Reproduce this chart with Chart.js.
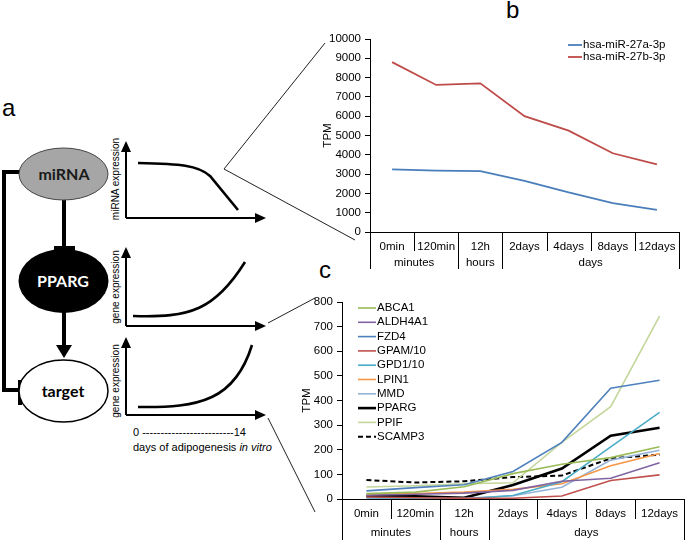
<!DOCTYPE html>
<html lang="en">
<head>
<meta charset="UTF-8">
<title>miR-27 / PPARG adipogenesis</title>
<script src="https://cdn.jsdelivr.net/npm/chart.js@4.4.0/dist/chart.umd.min.js"></script>
<style>
  body { margin: 0; background: #fff; }
  #wrap { position: relative; width: 685px; height: 540px; overflow: hidden; font-family: "Liberation Sans", Arial, sans-serif; }
  #diagram { position: absolute; left: 0; top: 0; }
  .box { position: absolute; }
  .panel { position: absolute; font-size: 24px; color: #000; }
</style>
</head>
<body>
<div id="wrap">
  <svg id="diagram" width="685" height="540" xmlns="http://www.w3.org/2000/svg">
    <!-- connector lines to the charts -->
    <g stroke="#222" stroke-width="1" fill="none">
      <line x1="224" y1="169" x2="325" y2="43"/>
      <line x1="224" y1="169" x2="355" y2="240"/>
      <line x1="268" y1="323" x2="315" y2="298"/>
      <line x1="268" y1="418" x2="315" y2="512"/>
    </g>
    <!-- regulation scheme -->
    <g stroke="#000" stroke-width="4" fill="none">
      <polyline points="20,172 4,172 4,390 20,390"/>
      <line x1="20" y1="380" x2="20" y2="405"/>
      <line x1="64" y1="198" x2="64" y2="248"/>
      <line x1="54" y1="248" x2="75" y2="248"/>
      <line x1="64" y1="312" x2="64" y2="346"/>
    </g>
    <path d="M56,345 L72,345 L64,358 z" fill="#000"/>
    <ellipse cx="63.5" cy="174" rx="44.5" ry="26" fill="#a6a6a6" stroke="#444" stroke-width="1"/>
    <ellipse cx="63.5" cy="281" rx="45" ry="32" fill="#000"/>
    <ellipse cx="63.5" cy="391" rx="44.5" ry="31" fill="#fff" stroke="#000" stroke-width="1.5"/>
    <g font-family="Lato, 'Open Sans', sans-serif" font-weight="bold" font-size="16" text-anchor="middle">
      <text x="64" y="180" fill="#1a1a1a">miRNA</text>
      <text x="63" y="287" fill="#fff">PPARG</text>
      <text x="63" y="397" fill="#000">target</text>
    </g>
    <!-- schematic expression curves -->
    <g stroke="#000" stroke-width="2" fill="none">
      <line x1="126" y1="218" x2="126" y2="150"/>
      <line x1="126" y1="218" x2="257" y2="218"/>
      <line x1="126" y1="326" x2="126" y2="256"/>
      <line x1="126" y1="326" x2="257" y2="326"/>
      <line x1="126" y1="415" x2="126" y2="346"/>
      <line x1="126" y1="415" x2="257" y2="415"/>
    </g>
    <g fill="#000">
      <path d="M121,152 L131,152 L126,141 z"/>
      <path d="M255,213 L255,223 L266,218 z"/>
      <path d="M121,258 L131,258 L126,247 z"/>
      <path d="M255,321 L255,331 L266,326 z"/>
      <path d="M121,348 L131,348 L126,337 z"/>
      <path d="M255,410 L255,420 L266,415 z"/>
    </g>
    <g stroke="#000" stroke-width="2.6" fill="none">
      <path d="M138,163 C180,164 198,165 210,176 L238,210"/>
      <path d="M133,316 C190,318 215,310 245,262"/>
      <path d="M138,407 C200,408 235,400 252,345"/>
    </g>
    <g font-family="'Liberation Sans', Arial, sans-serif" font-size="10" fill="#000" text-anchor="middle">
      <text transform="translate(119,179) rotate(-90)">miRNA expression</text>
      <text transform="translate(119,287) rotate(-90)">gene expression</text>
      <text transform="translate(119,381) rotate(-90)">gene expression</text>
    </g>
    <g font-family="'Liberation Sans', Arial, sans-serif" font-size="11" fill="#000">
      <text x="133" y="436">0 -------------------------14</text>
      <text x="133" y="451">days of adipogenesis <tspan font-style="italic">in vitro</tspan></text>
    </g>
  </svg>
  <div class="panel" style="left:2px; top:94px;">a</div>
  <div class="panel" style="left:506px; top:-4px;">b</div>
  <div class="panel" style="left:319px; top:256px;">c</div>
  <div class="box" style="left:300px; top:25px;"><canvas id="chartB" width="385" height="255"></canvas></div>
  <div class="box" style="left:290px; top:285px;"><canvas id="chartC" width="395" height="255"></canvas></div>
</div>

<script>
// time points and their grouping
const categories = ['0min', '120min', '12h', '2days', '4days', '8days', '12days'];
const groupLabels = ['minutes', 'hours', 'days'];
const groupSpans = [[0, 1], [2, 2], [3, 6]];

// panel b: miRNA TPM
const mirNames = ['hsa-miR-27a-3p', 'hsa-miR-27b-3p'];
const mir27a = [3250, 3180, 3150, 2650, 2050, 1500, 1150];
const mir27b = [8800, 7620, 7700, 6000, 5250, 4080, 3500];
const mirTicks = [0, 1000, 2000, 3000, 4000, 5000, 6000, 7000, 8000, 9000, 10000];

// panel c: target gene TPM
const geneNames = ['ABCA1', 'ALDH4A1', 'FZD4', 'GPAM/10', 'GPD1/10', 'LPIN1', 'MMD', 'PPARG', 'PPIF', 'SCAMP3'];
const abca1   = [22, 28, 50, 103, 141, 168, 212];
const aldh4a1 = [15, 19, 24, 35, 72, 84, 147];
const fzd4    = [33, 46, 58, 112, 230, 450, 482];
const gpam    = [8, 5, 3, 3, 12, 75, 98];
const gpd1    = [5, 3, 0, 14, 70, 212, 352];
const lpin1   = [19, 22, 28, 39, 62, 135, 185];
const mmd     = [4, 3, 3, 13, 48, 158, 198];
const pparg   = [13, 11, 5, 57, 124, 257, 289];
const ppif    = [49, 54, 62, 66, 230, 375, 743];
const scamp3  = [77, 67, 72, 89, 95, 165, 180];
const geneTicks = [0, 100, 200, 300, 400, 500, 600, 700, 800];

const FONT = "'Liberation Sans', Arial, sans-serif";

// excel style two level category axis
const groupAxis = {
  id: 'groupAxis',
  afterDraw(chart, args, o) {
    const x = chart.scales.x;
    const ctx = chart.ctx;
    const y0 = chart.chartArea.bottom;
    const long = new Set();
    groupSpans.forEach(s => { long.add(s[0]); long.add(s[1] + 1); });
    ctx.save();
    ctx.strokeStyle = '#000';
    ctx.lineWidth = 1;
    for (let i = 0; i <= categories.length; i++) {
      const px = Math.round(x.getPixelForValue(i - 0.5)) + 0.5;
      ctx.beginPath();
      ctx.moveTo(px, y0);
      ctx.lineTo(px, y0 + (long.has(i) ? o.longLen : o.shortLen));
      ctx.stroke();
    }
    ctx.fillStyle = '#000';
    ctx.font = '11.5px ' + FONT;
    ctx.textAlign = 'center';
    ctx.textBaseline = 'middle';
    groupSpans.forEach((s, i) => {
      const cx = (x.getPixelForValue(s[0]) + x.getPixelForValue(s[1])) / 2;
      ctx.fillText(groupLabels[i], cx, y0 + o.labelOff);
    });
    ctx.restore();
  }
};

// line-sample legend like the spreadsheet one
const lineLegend = {
  id: 'lineLegend',
  afterDraw(chart, args, o) {
    const ctx = chart.ctx;
    ctx.save();
    ctx.font = '11.5px ' + FONT;
    ctx.textBaseline = 'middle';
    ctx.fillStyle = '#000';
    chart.data.datasets.forEach((ds, i) => {
      const y = o.y + i * o.step;
      ctx.beginPath();
      ctx.strokeStyle = ds.borderColor;
      ctx.lineWidth = ds.borderWidth;
      ctx.setLineDash(ds.borderDash || []);
      ctx.moveTo(o.x, y);
      ctx.lineTo(o.x + o.len, y);
      ctx.stroke();
      ctx.setLineDash([]);
      ctx.fillText(ds.label, o.x + o.len + 1, y);
    });
    ctx.restore();
  }
};

function axisOptions(ticks, yWidth, xHeight, titlePad) {
  return {
    x: {
      type: 'category',
      offset: true,
      grid: { display: false },
      border: { display: true, color: '#000', width: 1 },
      ticks: { color: '#000', font: { family: FONT, size: 11.5 }, padding: 0, maxRotation: 0, autoSkip: false },
      afterFit: s => { s.height = xHeight; }
    },
    y: {
      min: ticks[0],
      max: ticks[ticks.length - 1],
      afterBuildTicks: s => { s.ticks = ticks.map(v => ({ value: v })); },
      grid: { drawOnChartArea: false, tickLength: 5, color: '#000' },
      border: { display: true, color: '#000', width: 1 },
      ticks: { color: '#000', font: { family: FONT, size: 11.5 }, padding: 4, callback: v => String(v) },
      title: { display: true, text: 'TPM', color: '#000', font: { family: FONT, size: 11.5 }, padding: { top: titlePad, bottom: 0 } },
      afterFit: s => { s.width = yWidth; }
    }
  };
}

function ds(label, data, color, width, dash) {
  return { label: label, data: data, borderColor: color, backgroundColor: color, borderWidth: width,
           borderDash: dash || [], pointRadius: 0, tension: 0, fill: false };
}

new Chart(document.getElementById('chartB'), {
  type: 'line',
  data: {
    labels: categories,
    datasets: [
      ds(mirNames[0], mir27a, '#4a7ebb', 1.8),
      ds(mirNames[1], mir27b, '#be4b48', 1.8)
    ]
  },
  options: {
    responsive: false,
    animation: false,
    layout: { padding: { left: 0, top: 14, right: 6, bottom: 0 } },
    scales: axisOptions(mirTicks, 70, 48, 21),
    plugins: {
      legend: { display: false },
      tooltip: { enabled: false },
      groupAxis: { shortLen: 19, longLen: 37, labelOff: 31 },
      lineLegend: { x: 268, y: 20, step: 12, len: 14 }
    }
  },
  plugins: [groupAxis, lineLegend]
});

new Chart(document.getElementById('chartC'), {
  type: 'line',
  data: {
    labels: categories,
    datasets: [
      ds(geneNames[0], abca1, '#9bbb59', 1.6),
      ds(geneNames[1], aldh4a1, '#8064a2', 1.6),
      ds(geneNames[2], fzd4, '#4f81bd', 1.6),
      ds(geneNames[3], gpam, '#c0504d', 1.6),
      ds(geneNames[4], gpd1, '#4bacc6', 1.6),
      ds(geneNames[5], lpin1, '#f79646', 1.6),
      ds(geneNames[6], mmd, '#95b3d7', 1.6),
      ds(geneNames[7], pparg, '#000000', 2.6),
      ds(geneNames[8], ppif, '#c3d69b', 1.6),
      ds(geneNames[9], scamp3, '#000000', 2, [5, 3])
    ]
  },
  options: {
    responsive: false,
    animation: false,
    layout: { padding: { left: 0, top: 17, right: 1, bottom: 0 } },
    scales: axisOptions(geneTicks, 52, 41, 10),
    plugins: {
      legend: { display: false },
      tooltip: { enabled: false },
      groupAxis: { shortLen: 20, longLen: 41, labelOff: 34 },
      lineLegend: { x: 68, y: 23, step: 14.3, len: 18 }
    }
  },
  plugins: [groupAxis, lineLegend]
});
</script>
</body>
</html>
